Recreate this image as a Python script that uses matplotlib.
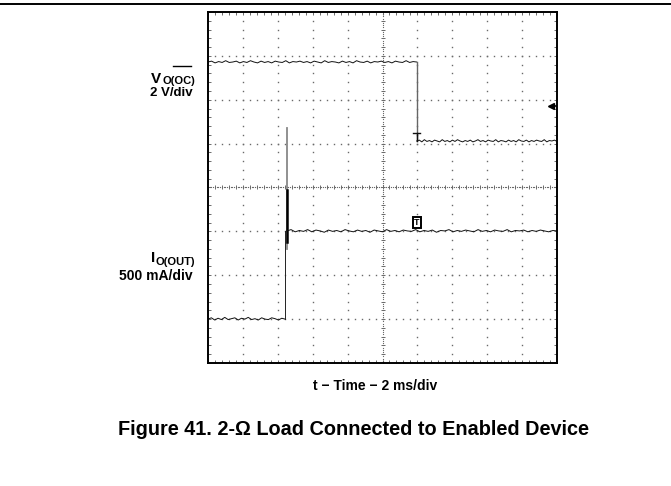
import matplotlib.pyplot as plt
import numpy as np
from matplotlib.lines import Line2D

plt.rcParams['font.family'] = ['Liberation Sans', 'DejaVu Sans']

# scope screen: 10 horizontal divisions, 8 vertical divisions
n_xdiv = 10
n_ydiv = 8

# V_O(OC) trace (in divisions): high, then falls when the load is connected
v_fall_time = 5.98
v_high = [6.86, 6.88, 6.84, 6.87, 6.85, 6.89, 6.85, 6.86, 6.88, 6.84,
          6.87, 6.85, 6.89, 6.86, 6.84, 6.88, 6.85, 6.87, 6.84, 6.88,
          6.86, 6.85, 6.89, 6.84, 6.87, 6.86, 6.88, 6.85, 6.87, 6.84,
          6.88, 6.86, 6.84, 6.89, 6.85, 6.87, 6.86, 6.84, 6.88, 6.85,
          6.87, 6.84, 6.89, 6.86, 6.85, 6.88, 6.84, 6.87, 6.86, 6.88,
          6.85, 6.87, 6.84, 6.88, 6.86, 6.85, 6.89, 6.85, 6.87, 6.86]
v_low = [5.06, 5.08, 5.04, 5.09, 5.05, 5.07, 5.04, 5.08, 5.06, 5.04,
         5.09, 5.05, 5.07, 5.04, 5.08, 5.05, 5.09, 5.06, 5.04, 5.07,
         5.05, 5.08, 5.04, 5.06, 5.09, 5.05, 5.07, 5.04, 5.08, 5.06,
         5.05, 5.09, 5.04, 5.07, 5.06, 5.04, 5.08, 5.05, 5.07, 5.04,
         5.09, 5.06, 5.05, 5.08, 5.04, 5.07, 5.05, 5.08, 5.06, 5.05,
         5.09, 5.04, 5.07, 5.06, 5.08, 5.05]

# I_O(OUT) trace (in divisions): step up at load connection with a spike
i_rise_time = 2.21
i_spike_top = 5.35
i_low = [1.00, 1.03, 0.98, 1.02, 0.99, 1.04, 0.99, 1.01, 1.03, 0.98,
         1.02, 1.00, 1.04, 0.99, 1.01, 0.98, 1.03, 1.00, 0.99, 1.03,
         1.01, 0.98, 1.02, 1.00]
i_high = [3.01, 3.04, 2.99, 3.02, 3.00, 3.04, 2.99, 3.03, 3.01, 2.98,
          3.03, 3.00, 3.02, 2.99, 3.04, 3.01, 2.99, 3.03, 3.00, 3.02,
          2.98, 3.03, 3.01, 2.99, 3.04, 3.00, 3.02, 2.99, 3.03, 3.01,
          3.00, 3.04, 2.99, 3.02, 3.00, 3.03, 2.98, 3.02, 3.01, 3.04,
          2.99, 3.02, 3.00, 3.03, 3.01, 2.99, 3.04, 3.00, 3.02, 2.99,
          3.03, 3.01, 3.00, 3.04, 2.99, 3.02, 3.01, 3.03, 2.99, 3.02,
          3.00, 3.03, 3.01, 2.99, 3.02, 3.01]

trigger_pos = (5.98, 3.2)
ch1_ground = 5.85

W, H = 671, 486
fig = plt.figure(figsize=(W / 100, H / 100), dpi=100)


def px(x, y):
    return x / W, 1 - y / H


ax = fig.add_axes([208 / W, (H - 363) / H, (557 - 208) / W, (363 - 12) / H])
ax.set_xlim(0, n_xdiv)
ax.set_ylim(0, n_ydiv)
ax.set_xticks([])
ax.set_yticks([])
ax.set_xticks(np.arange(0, n_xdiv + 0.01, 0.2), minor=True)
ax.set_yticks(np.arange(0, n_ydiv + 0.01, 0.2), minor=True)
ax.tick_params(which='minor', direction='in', length=2, width=0.6, color='#555',
               top=True, right=True, labelbottom=False, labelleft=False)
for s in ax.spines.values():
    s.set_linewidth(1.4)

gc = '#6a6a6a'
# dotted graticule
for gx in range(1, n_xdiv):
    if gx == n_xdiv // 2:
        continue
    yy = np.arange(0.2, n_ydiv, 0.2)
    ax.plot(np.full_like(yy, gx), yy, ls='none', marker='s', ms=1.0, color=gc, mew=0)
for gy in range(1, n_ydiv):
    if gy == n_ydiv // 2:
        continue
    xx = np.arange(0.2, n_xdiv, 0.2)
    ax.plot(xx, np.full_like(xx, gy), ls='none', marker='s', ms=1.0, color=gc, mew=0)

# center axes with small cross ticks
cx, cy = n_xdiv / 2, n_ydiv / 2
xx = np.arange(0, n_xdiv + 0.01, 0.05)
ax.plot(xx, np.full_like(xx, cy), ls='none', marker='s', ms=0.8, color=gc, mew=0)
yy = np.arange(0, n_ydiv + 0.01, 0.05)
ax.plot(np.full_like(yy, cx), yy, ls='none', marker='s', ms=0.8, color=gc, mew=0)
xx = np.arange(0.2, n_xdiv, 0.2)
ax.plot(xx, np.full_like(xx, cy), ls='none', marker='|', ms=3.5, mew=0.7, color=gc)
yy = np.arange(0.2, n_ydiv, 0.2)
ax.plot(np.full_like(yy, cx), yy, ls='none', marker='_', ms=3.5, mew=0.7, color=gc)

# V trace
t_vh = np.linspace(0, v_fall_time, len(v_high))
t_vl = np.linspace(v_fall_time, n_xdiv, len(v_low))
ax.plot(t_vh, v_high, color='#111', lw=0.7)
ax.plot([v_fall_time, v_fall_time], [v_high[-1], v_low[0]], color='#666', lw=1.0)
ax.plot(t_vl, v_low, color='#111', lw=0.7)
# small T marker at the fall
ax.plot([v_fall_time - 0.1, v_fall_time + 0.1], [v_low[0] + 0.18, v_low[0] + 0.18], color='#111', lw=1.0)
ax.plot([v_fall_time, v_fall_time], [v_low[0] + 0.18, v_low[0]], color='#111', lw=1.0)

# I trace
t_il = np.linspace(0, i_rise_time, len(i_low))
t_ih = np.linspace(i_rise_time + 0.05, n_xdiv, len(i_high))
ax.plot(t_il, i_low, color='#111', lw=0.7)
ax.plot([i_rise_time, i_rise_time], [i_low[-1], i_high[0]], color='#222', lw=0.7)
ax.plot([i_rise_time + 0.05, i_rise_time + 0.05], [2.6, i_spike_top], color='#888', lw=1.3)
ax.plot([i_rise_time + 0.05, i_rise_time + 0.05], [2.75, 3.95], color='#000', lw=1.8)
ax.plot(t_ih, i_high, color='#111', lw=0.7)

# trigger marker
ax.text(trigger_pos[0], trigger_pos[1], 'T', fontsize=6.5, fontweight='bold', ha='center', va='center',
        bbox=dict(boxstyle='square,pad=0.15', fc='white', ec='black', lw=1.4))

# channel 1 ground arrow
ax.plot([9.82], [ch1_ground], marker='<', ms=5, color='black', clip_on=False)
ax.plot([9.82, 10], [ch1_ground, ch1_ground], color='black', lw=1.2)

# channel labels: main letter + subscript drawn separately
fig.text(*px(161, 83), 'V', fontsize=11, fontweight='bold', ha='right', va='baseline')
fig.text(*px(195, 83.5), 'O(OC)', fontsize=8, fontweight='bold', ha='right', va='baseline')
fig.add_artist(Line2D([173 / W, 191 / W], [1 - 66 / H, 1 - 66 / H], color='black', lw=1.0))
fig.text(*px(193, 96), '2 V/div', fontsize=9.5, fontweight='bold', ha='right', va='baseline')
fig.text(*px(155, 262), 'I', fontsize=11, fontweight='bold', ha='right', va='baseline')
fig.text(*px(195, 264.5), 'O(OUT)', fontsize=8, fontweight='bold', ha='right', va='baseline')
fig.text(*px(193, 280.5), '500 mA/div', fontsize=10, fontweight='bold', ha='right', va='baseline')

fig.text(*px(375, 386), 't \u2212 Time \u2212 2 ms/div', fontsize=10, fontweight='bold', ha='center', va='center')
fig.text(*px(354, 429), 'Figure 41. 2-\u03a9 Load Connected to Enabled Device', fontsize=14.3,
         fontweight='bold', ha='center', va='center')

# page rule at the top
fig.add_artist(Line2D([0, 1], [1 - 4 / H, 1 - 4 / H], color='black', lw=1.4))

fig.savefig('out.png', dpi=100)
